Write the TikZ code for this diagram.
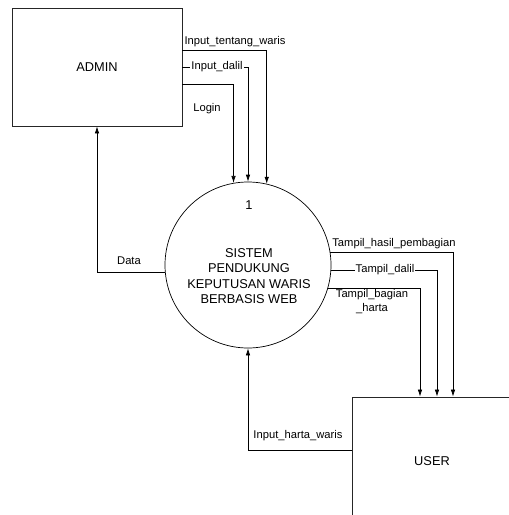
\documentclass[tikz,border=0pt]{standalone}
\usepackage{fontspec}
\setmainfont{Liberation Sans}
\usetikzlibrary{arrows.meta}
\tikzset{
  entity/.style={draw=black!85, line width=0.8pt, rectangle, inner sep=0pt, font=\fontsize{12.8}{14}\selectfont},
  proc/.style={draw, line width=0.7pt, circle, inner sep=0pt, minimum size=166pt},
  ptext/.style={font=\fontsize{12.8}{15.5}\selectfont, align=center, inner sep=0pt},
  flow/.style={draw, line width=0.7pt, -{Latex[length=7pt,width=4.5pt]}},
  lbl/.style={font=\fontsize{11.2}{13}\selectfont, inner sep=1pt, align=center},
  lblon/.style={lbl, fill=white, inner sep=1.2pt}
}
\begin{document}
\begin{tikzpicture}[x=1pt,y=-1pt]
\useasboundingbox (0,0) rectangle (509,515);
\clip (0,0) rectangle (509,515);
\node[entity, minimum width=170pt, minimum height=118pt] (admin) at (97,67) {ADMIN};
\node[entity, minimum width=160pt, minimum height=128pt] (user) at (432,461) {USER};
\node[proc] (proc) at (248,265) {};
\node[ptext] (pnum) at (249,205) {1};
\node[ptext] (pname) at (249,276) {SISTEM\\PENDUKUNG\\KEPUTUSAN WARIS\\BERBASIS WEB};
% admin -> process
\draw[flow] (admin.east |- 0,50) -| (proc.77);
\draw[flow] (admin.east |- 0,67) -| (proc.90);
\draw[flow] (admin.east |- 0,84) -| (proc.100.5);
\node[lbl] (l1) at (235,42) {Input\_tentang\_waris};
\node[lblon] (l2) at (217,67) {Input\_dalil};
\node[lbl] (l3) at (207,109) {Login};
% process -> admin
\draw[flow] (proc.185.5) -| (admin.south);
\node[lbl] (l4) at (129,261) {Data};
% process -> user
\draw[flow] (proc.9.7) -| (user.north -| 453,0);
\draw[flow] (proc.356.5) -| (user.north -| 437,0);
\draw[flow] (proc.344.6) -| (user.north -| 420,0);
\node[lbl] (l5) at (394,244) {Tampil\_hasil\_pembagian};
\node[lblon] (l6) at (385,270) {Tampil\_dalil};
\node[lbl, font=\fontsize{11.2}{14}\selectfont] (l7) at (372,302) {Tampil\_bagian\\\_harta};
% user -> process
\draw[flow] (user.west |- 0,450) -| (proc.south);
\node[lbl] (l8) at (298,436) {Input\_harta\_waris};
\end{tikzpicture}
\end{document}
